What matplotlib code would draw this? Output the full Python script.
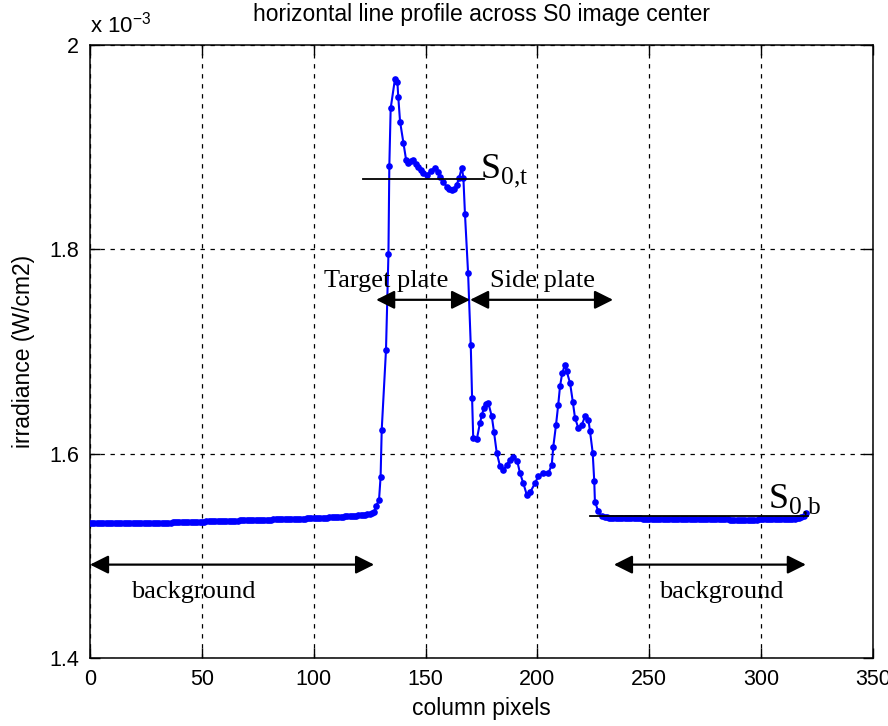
import matplotlib
matplotlib.use("Agg")
import matplotlib.pyplot as plt
from matplotlib.ticker import FixedLocator, FuncFormatter

plt.rcParams['font.family'] = ['Liberation Sans', 'DejaVu Sans']
plt.rcParams['mathtext.fontset'] = 'custom'
plt.rcParams['mathtext.rm'] = 'Liberation Serif'
plt.rcParams['mathtext.sf'] = 'Liberation Sans'

# ---- data (irradiance in units of 1e-3 W/cm2) ----
left_cols = list(range(0, 128))
left_vals = [
    1.5322, 1.5322, 1.5322, 1.5322, 1.5322, 1.5322, 1.5322, 1.5322, 1.5322, 1.5322,
    1.5322, 1.5322, 1.5322, 1.5322, 1.5322, 1.5322, 1.5322, 1.5322, 1.5322, 1.5322,
    1.5323, 1.5323, 1.5323, 1.5323, 1.5324, 1.5324, 1.5324, 1.5324, 1.5324, 1.5325,
    1.5325, 1.5325, 1.5325, 1.5325, 1.5326, 1.5326, 1.5326, 1.5327, 1.5327, 1.5328,
    1.5330, 1.5330, 1.5330, 1.5331, 1.5331, 1.5332, 1.5332, 1.5333, 1.5333, 1.5334,
    1.5336, 1.5336, 1.5337, 1.5337, 1.5338, 1.5338, 1.5339, 1.5340, 1.5340, 1.5341,
    1.5342, 1.5342, 1.5343, 1.5344, 1.5344, 1.5345, 1.5345, 1.5346, 1.5347, 1.5347,
    1.5348, 1.5349, 1.5349, 1.5350, 1.5351, 1.5351, 1.5352, 1.5352, 1.5353, 1.5354,
    1.5354, 1.5355, 1.5356, 1.5356, 1.5357, 1.5358, 1.5358, 1.5359, 1.5360, 1.5360,
    1.5361, 1.5362, 1.5362, 1.5363, 1.5364, 1.5365, 1.5365, 1.5366, 1.5367, 1.5368,
    1.5369, 1.5370, 1.5371, 1.5372, 1.5373, 1.5374, 1.5375, 1.5376, 1.5377, 1.5378,
    1.5380, 1.5381, 1.5382, 1.5383, 1.5385, 1.5386, 1.5388, 1.5389, 1.5391, 1.5393,
    1.5396, 1.5398, 1.5401, 1.5404, 1.5408, 1.5413, 1.5420, 1.5432,
]

peak_cols = [
    128.0, 129.2, 129.9, 130.4, 132.3, 133.4, 133.8, 134.4, 136.3, 137.4,
    137.8, 138.6, 140.1, 141.3, 142.3, 143.4, 144.5, 145.6, 146.8, 147.9,
    149.0, 150.8, 152.5, 154.2, 155.4, 156.5, 158.0, 159.5, 160.6, 161.7,
    162.8, 163.9, 165.0, 166.2, 166.9, 167.6, 169.0, 170.2, 170.8, 171.3,
    172.9, 174.3, 175.2, 176.1, 177.0, 178.0, 179.6, 180.6, 181.8, 183.3,
    184.8, 186.3, 187.7, 189.2, 191.0, 192.2, 193.7, 195.2, 196.7, 198.9,
    200.4, 202.6, 204.9, 206.4, 207.1, 208.3, 209.3, 210.1, 211.1, 212.3,
    213.1, 214.6, 215.8, 216.8, 218.3, 219.8, 221.3, 222.8, 223.5, 224.7,
    225.4, 225.7, 227.2, 228.7,
]
peak_vals = [
    1.5490, 1.5550, 1.5775, 1.6235, 1.7010, 1.7950, 1.8820, 1.9380, 1.9665, 1.9640,
    1.9490, 1.9250, 1.9040, 1.8875, 1.8846, 1.8860, 1.8875, 1.8840, 1.8810, 1.8780,
    1.8750, 1.8730, 1.8770, 1.8800, 1.8760, 1.8710, 1.8660, 1.8610, 1.8590, 1.8580,
    1.8590, 1.8630, 1.8700, 1.8800, 1.8700, 1.8350, 1.7770, 1.7060, 1.6540, 1.6150,
    1.6140, 1.6300, 1.6380, 1.6450, 1.6490, 1.6500, 1.6365, 1.6210, 1.6010, 1.5876,
    1.5840, 1.5890, 1.5940, 1.5970, 1.5925, 1.5810, 1.5710, 1.5600, 1.5620, 1.5710,
    1.5780, 1.5810, 1.5810, 1.5890, 1.6070, 1.6280, 1.6480, 1.6660, 1.6790, 1.6870,
    1.6805, 1.6690, 1.6510, 1.6350, 1.6250, 1.6280, 1.6365, 1.6330, 1.6220, 1.6010,
    1.5730, 1.5530, 1.5436, 1.5387,
]

right_cols = list(range(230, 321))
right_vals = [
    1.5378, 1.5376, 1.5375, 1.5374, 1.5373, 1.5372, 1.5372, 1.5371, 1.5370, 1.5370,
    1.5369, 1.5368, 1.5368, 1.5367, 1.5367, 1.5366, 1.5366, 1.5365, 1.5365, 1.5364,
    1.5364, 1.5363, 1.5363, 1.5362, 1.5362, 1.5362, 1.5361, 1.5361, 1.5361, 1.5360,
    1.5360, 1.5360, 1.5360, 1.5359, 1.5359, 1.5359, 1.5359, 1.5358, 1.5358, 1.5358,
    1.5358, 1.5358, 1.5357, 1.5357, 1.5357, 1.5357, 1.5357, 1.5357, 1.5356, 1.5356,
    1.5356, 1.5356, 1.5356, 1.5356, 1.5356, 1.5356, 1.5355, 1.5355, 1.5355, 1.5355,
    1.5355, 1.5355, 1.5355, 1.5355, 1.5355, 1.5355, 1.5355, 1.5355, 1.5355, 1.5356,
    1.5356, 1.5356, 1.5356, 1.5356, 1.5356, 1.5357, 1.5357, 1.5357, 1.5357, 1.5358,
    1.5358, 1.5359, 1.5360, 1.5361, 1.5362, 1.5364, 1.5366, 1.5370, 1.5376, 1.5390,
    1.5420,
]

x_ticks = [0, 50, 100, 150, 200, 250, 300, 350]
y_ticks = [1.4, 1.6, 1.8, 2.0]

# reference levels and annotation spans
s0t_level = 1.869
s0t_span = (122.0, 176.0)
s0b_level = 1.5394
s0b_span = (223.5, 321.0)
plate_arrow_y = 1.7506
target_span = (127.9, 169.9)
side_span = (169.9, 233.8)
bg_arrow_y = 1.4914
bg_left_span = (0.0, 127.0)
bg_right_span = (234.2, 320.0)

cols = left_cols + peak_cols + right_cols
vals = left_vals + peak_vals + right_vals

fig = plt.figure(figsize=(8.88, 7.26), dpi=100)
ax = fig.add_axes([90 / 888, 1 - 658 / 726, (873 - 90) / 888, (658 - 45) / 726])

ax.plot(cols, vals, color=(0, 0, 1), lw=1.5, marker='o', ms=4.8,
        markeredgewidth=0, zorder=3)

ax.set_xlim(0, 350)
ax.set_ylim(1.4, 2.0)
ax.xaxis.set_major_locator(FixedLocator(x_ticks))
ax.yaxis.set_major_locator(FixedLocator(y_ticks))
ax.yaxis.set_major_formatter(FuncFormatter(lambda v, p: f"{v:g}"))
ax.tick_params(direction='in', length=7, width=1, top=True, right=True,
               labelsize=15.5, pad=8, colors='black')
ax.grid(True, color='black', linestyle=(0, (3.5, 4.5)), linewidth=0.9)
for s in ax.spines.values():
    s.set_linewidth(1.1)

ax.set_title("horizontal line profile across S0 image center", fontsize=16.5, pad=17)
ax.set_xlabel("column pixels", fontsize=16.5, labelpad=5)
ax.set_ylabel("irradiance (W/cm2)", fontsize=16.5, labelpad=10)
ax.text(0.0, 1.012, r"x 10$^{\mathsf{-3}}$", transform=ax.transAxes, fontsize=16,
        ha='left', va='bottom')

# reference lines
ax.plot(list(s0t_span), [s0t_level, s0t_level], color='black', lw=1.3, zorder=4)
ax.plot(list(s0b_span), [s0b_level, s0b_level], color='black', lw=1.3, zorder=4)

serif = ['Liberation Serif', 'DejaVu Serif']
ax.text(174.3, 1.870, r"S$_{\mathrm{0{,}t}}$", fontsize=26, family=serif,
        ha='left', va='baseline')
ax.text(303.0, 1.547, r"S$_{\mathrm{0{,}b}}$", fontsize=26, family=serif,
        ha='left', va='baseline')

arrow_kw = dict(arrowstyle='<|-|>', color='black', lw=1.6, mutation_scale=28,
                shrinkA=0, shrinkB=0)
for span, yv in [(target_span, plate_arrow_y), (side_span, plate_arrow_y),
                 (bg_left_span, bg_arrow_y), (bg_right_span, bg_arrow_y)]:
    ax.annotate('', xy=(span[1], yv), xytext=(span[0], yv),
                arrowprops=arrow_kw, zorder=5)

ax.text(132.5, 1.7633, "Target plate", fontsize=19, family=serif, ha='center', va='baseline')
ax.text(202.3, 1.7633, "Side plate", fontsize=19, family=serif, ha='center', va='baseline')
ax.text(46.0, 1.4592, "background", fontsize=19, family=serif, ha='center', va='baseline')
ax.text(282.0, 1.4592, "background", fontsize=19, family=serif, ha='center', va='baseline')

fig.savefig("out.png", dpi=100)
